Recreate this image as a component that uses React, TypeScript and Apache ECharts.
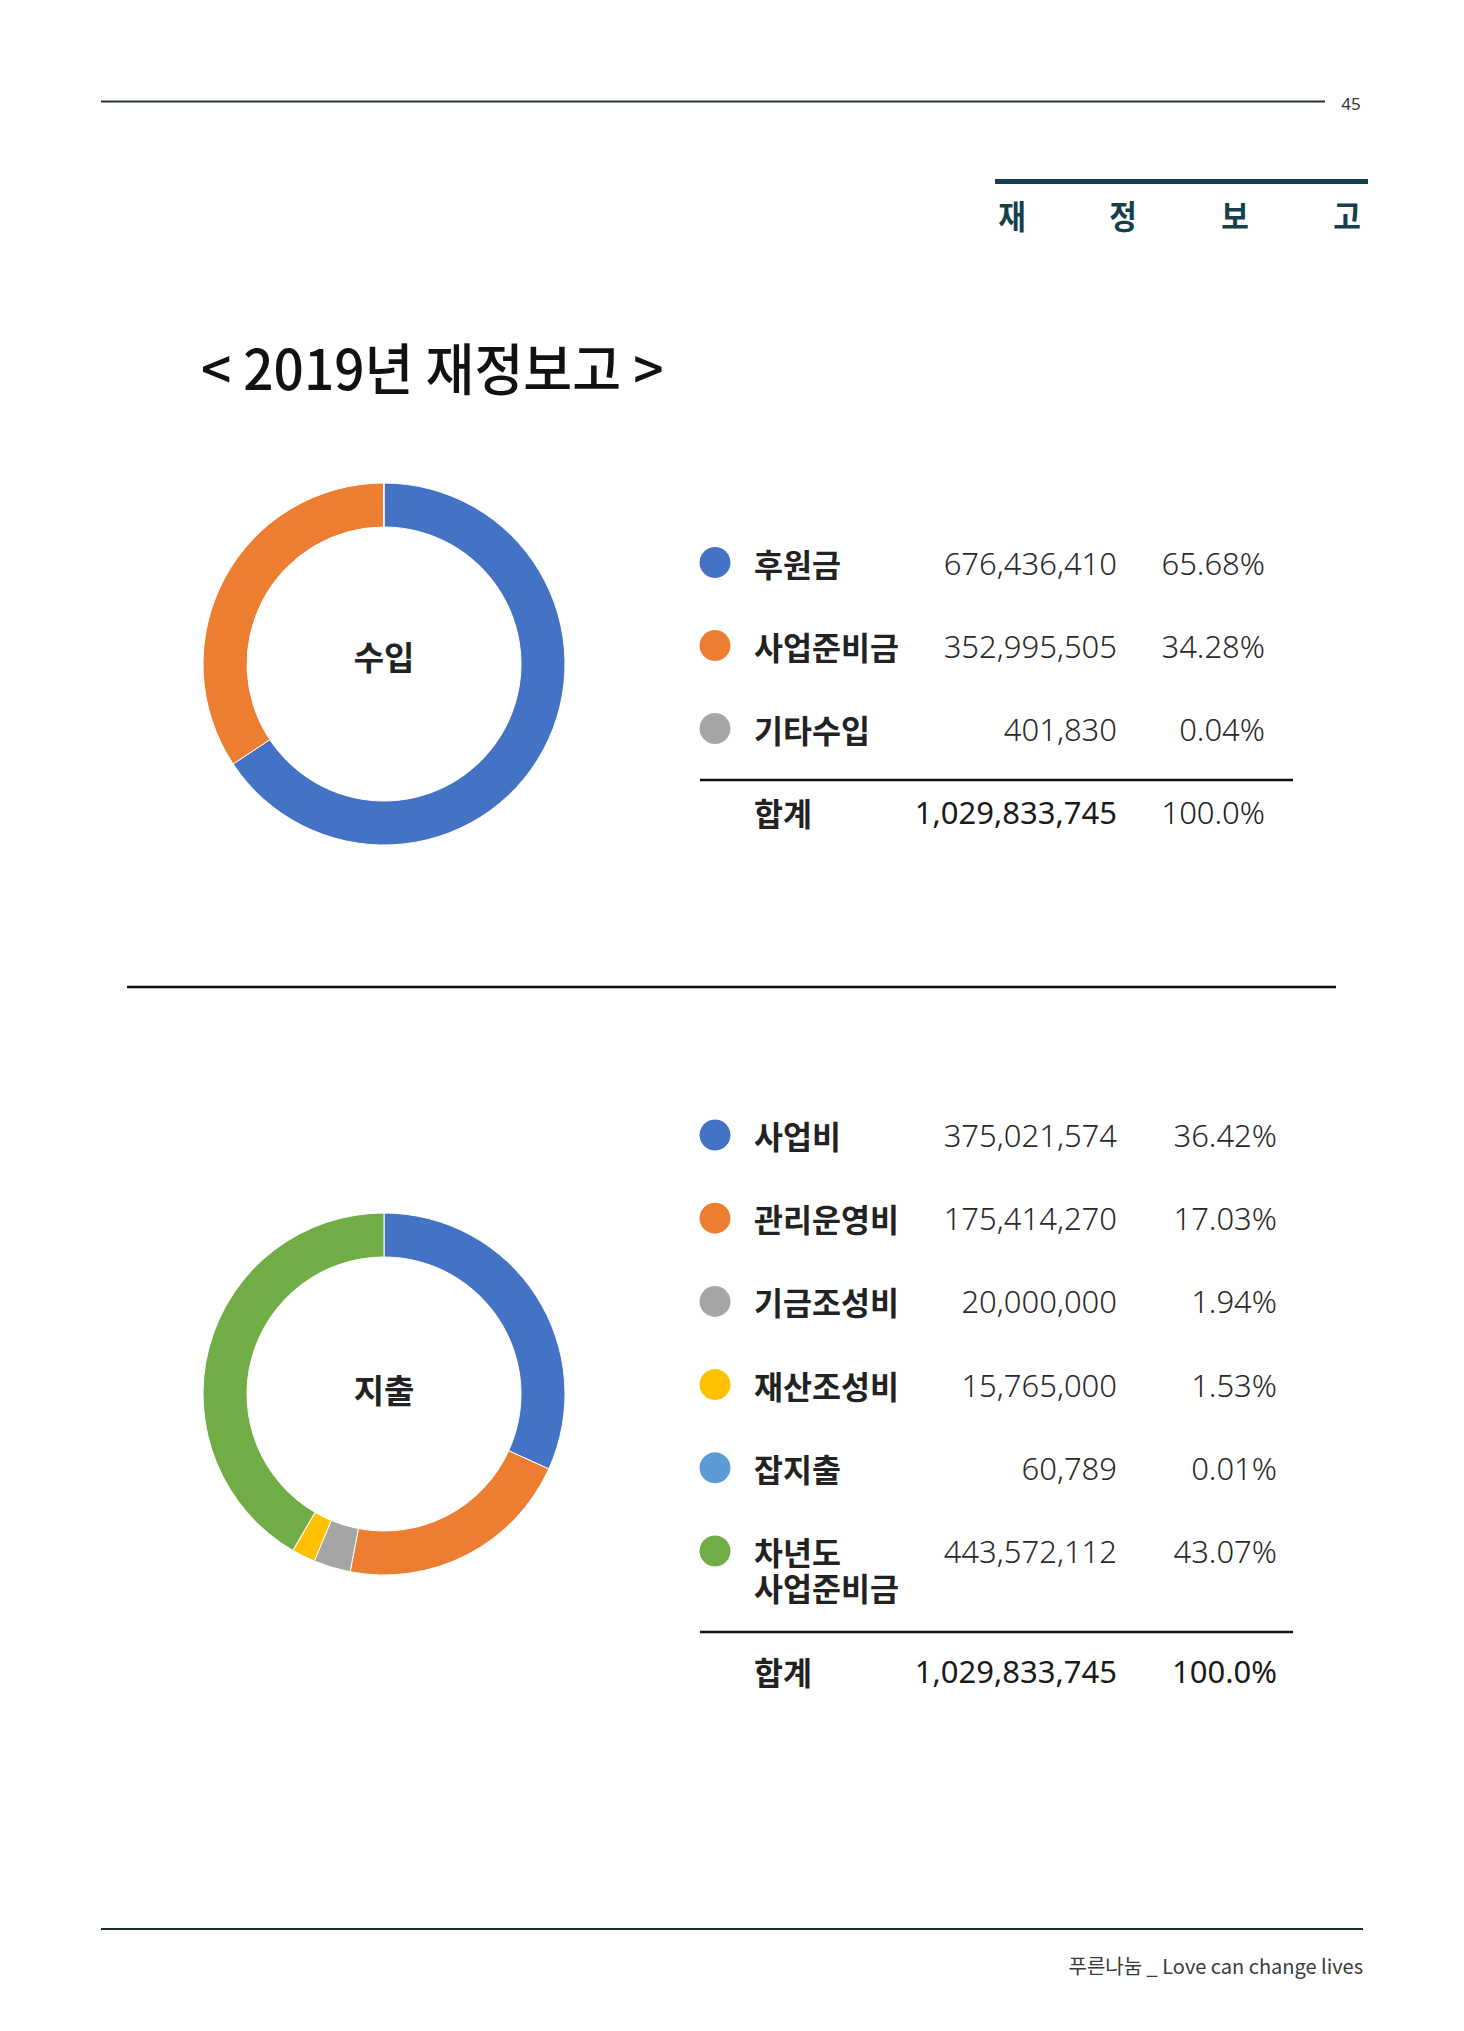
import React, { useEffect, useRef } from "react";
import * as echarts from "echarts";

// ---- Data ----
const incomeCategories = ["후원금", "사업준비금", "기타수입"];
const incomeAmounts = [676436410, 352995505, 401830];
const incomePercents = ["65.68%", "34.28%", "0.04%"];
const incomeColors = ["#4472C4", "#ED7D31", "#A5A5A5"];
const incomeTotalLabel = "합계";
const incomeTotalAmount = 1029833745;
const incomeTotalPercent = "100.0%";

const expenseCategories = ["사업비", "관리운영비", "기금조성비", "재산조성비", "잡지출", "차년도\n사업준비금"];
const expenseAmounts = [375021574, 175414270, 20000000, 15765000, 60789, 443572112];
const expensePercents = ["36.42%", "17.03%", "1.94%", "1.53%", "0.01%", "43.07%"];
// shares of the ring as drawn in the reference picture (percent of 360°)
const expenseRingShares = [31.8, 21.2, 3.3, 2.1, 0.01, 41.6];
const expenseColors = ["#4472C4", "#ED7D31", "#A5A5A5", "#FFC000", "#5B9BD5", "#70AD47"];
const expenseTotalLabel = "합계";
const expenseTotalAmount = 1029833745;
const expenseTotalPercent = "100.0%";

const pageNumber = "45";
const sectionTitle = ["재", "정", "보", "고"];
const mainTitle = "< 2019년 재정보고 >";
const incomeCenterLabel = "수입";
const expenseCenterLabel = "지출";
const footerText = "푸른나눔 _ Love can change lives";

const KR = '"Noto Sans CJK KR", "Noto Sans", sans-serif';
const NUM = '"Noto Sans", "Noto Sans CJK KR", sans-serif';

function fmt(n: number) {
  return n.toLocaleString("en-US");
}

function txt(x: number, y: number, text: string, opts: any = {}) {
  const align = opts.align || "left";
  const va = opts.va || "middle";
  const el: any = {
    type: "text",
    x,
    y,
    silent: true,
    style: {
      text,
      fill: opts.fill || "#222",
      fontSize: opts.size || 30,
      fontWeight: opts.weight || "normal",
      fontFamily: opts.family || KR,
      align,
      textAlign: align,
      verticalAlign: va,
      textVerticalAlign: va,
    },
  };
  if (opts.scaleX) el.scaleX = opts.scaleX;
  if (opts.scaleY) el.scaleY = opts.scaleY;
  return el;
}

function hline(x1: number, x2: number, y: number, w: number, color: string) {
  return {
    type: "line",
    silent: true,
    shape: { x1, y1: y, x2, y2: y },
    style: { stroke: color, lineWidth: w },
  };
}

function tableGraphics(
  cats: string[],
  amounts: number[],
  percents: string[],
  colors: string[],
  firstY: number,
  step: number,
  sepY: number,
  totalY: number,
  pctRight: number,
  totalLabel: string,
  totalAmount: number,
  totalPercent: string,
  totalPctWeight: any
) {
  const els: any[] = [];
  const dotX = 715;
  const labelX = 754;
  const numRight = 1117;
  const numOpts = { align: "right", size: 31, weight: 300, family: NUM, fill: "#2a2a2a" };
  cats.forEach((c, i) => {
    const y = firstY + i * step;
    els.push({
      type: "circle",
      silent: true,
      shape: { cx: dotX, cy: y, r: 15.5 },
      style: { fill: colors[i] },
    });
    const lines = c.split("\n");
    lines.forEach((ln, k) => {
      els.push(txt(labelX, y + k * 36, ln, { weight: "bold", size: 31.5 }));
    });
    els.push(txt(numRight, y, fmt(amounts[i]), numOpts));
    els.push(txt(pctRight, y, percents[i], numOpts));
  });
  els.push(hline(700, 1293, sepY, 2.5, "#111"));
  els.push(txt(labelX, totalY, totalLabel, { weight: "bold", size: 31.5 }));
  els.push(txt(numRight, totalY, fmt(totalAmount), { ...numOpts, weight: 400, fill: "#1a1a1a" }));
  els.push(txt(pctRight, totalY, totalPercent, { ...numOpts, weight: totalPctWeight, fill: "#1a1a1a" }));
  return els;
}

export default function App() {
  const ref = useRef<HTMLDivElement>(null);
  useEffect(() => {
    document.body.style.margin = "0";
    if (!ref.current) return;
    const chart = echarts.init(ref.current, undefined, { renderer: "svg" });

    const incomeData = incomeCategories.map((name, i) => ({
      name,
      value: incomeAmounts[i],
      itemStyle: { color: incomeColors[i] },
    }));
    const expenseData = expenseCategories.map((name, i) => ({
      name,
      value: expenseRingShares[i],
      itemStyle: { color: expenseColors[i] },
    }));

    const graphics: any[] = [];
    // header
    graphics.push(hline(101, 1325, 101.5, 2, "#23343a"));
    graphics.push(txt(1351, 103, pageNumber, { align: "center", size: 17, family: NUM, fill: "#333" }));
    graphics.push({
      type: "rect",
      silent: true,
      shape: { x: 995, y: 179, width: 373, height: 5 },
      style: { fill: "#163f4d" },
    });
    const secX = [1012, 1123, 1235, 1347];
    sectionTitle.forEach((ch, i) =>
      graphics.push(txt(secX[i], 215, ch, { align: "center", size: 30, weight: "bold", fill: "#163f4d", scaleY: 1.08 }))
    );
    graphics.push(txt(201, 366, mainTitle, { size: 56, weight: 500, fill: "#111", scaleX: 0.95 }));

    // ring center labels
    graphics.push(txt(384, 656, incomeCenterLabel, { align: "center", size: 33, weight: "bold", fill: "#222" }));
    graphics.push(txt(384, 1389, expenseCenterLabel, { align: "center", size: 33, weight: "bold", fill: "#222" }));

    // tables
    graphics.push(
      ...tableGraphics(incomeCategories, incomeAmounts, incomePercents, incomeColors, 562.5, 83, 780, 812, 1265,
        incomeTotalLabel, incomeTotalAmount, incomeTotalPercent, 300)
    );
    graphics.push(
      ...tableGraphics(expenseCategories, expenseAmounts, expensePercents, expenseColors, 1135, 83.2, 1632, 1671, 1277,
        expenseTotalLabel, expenseTotalAmount, expenseTotalPercent, 400)
    );

    // mid separator
    graphics.push(hline(127, 1336, 987, 2.5, "#111"));

    // footer
    graphics.push(hline(101, 1363, 1929, 2, "#1d2b30"));
    graphics.push(txt(1363, 1965, footerText, { align: "right", size: 20, family: KR, fill: "#3a3a3a" }));

    const pieCommon = {
      type: "pie",
      radius: [137, 181],
      startAngle: 90,
      clockwise: true,
      silent: true,
      label: { show: false },
      labelLine: { show: false },
      emphasis: { disabled: true },
      itemStyle: { borderColor: "#ffffff", borderWidth: 1 },
    };

    chart.setOption({
      animation: false,
      backgroundColor: "#ffffff",
      series: [
        { ...pieCommon, name: "수입", center: [384, 664], data: incomeData },
        { ...pieCommon, name: "지출", center: [384, 1394], data: expenseData },
      ],
      graphic: { elements: graphics },
    });

    return () => chart.dispose();
  }, []);

  return <div ref={ref} style={{ width: 1464, height: 2031 }} />;
}
